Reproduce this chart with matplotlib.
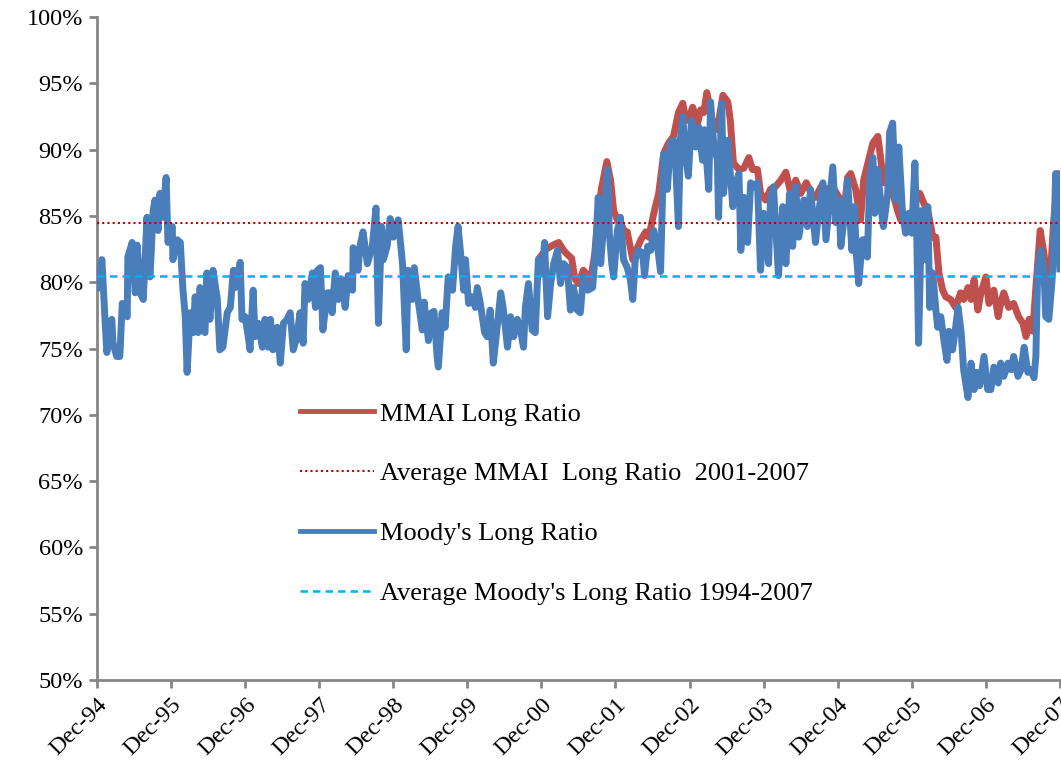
import matplotlib
matplotlib.use("Agg")
import matplotlib.pyplot as plt
import numpy as np

plt.rcParams["font.family"] = ["Liberation Serif", "DejaVu Serif"]

# months since Dec-94, value in %
moodys_month = [0.0, 0.8, 1.3, 1.6, 2.4, 2.6, 3.2, 3.7, 4.1, 4.9, 5.0, 5.7, 6.2, 6.5, 7.0, 7.5,
                8.1, 8.3, 8.6, 9.1, 9.4, 9.9, 10.2, 10.7, 11.2, 11.5, 12.2, 12.3, 13.0, 13.5, 13.9,
                14.3, 14.6, 15.1, 15.6, 15.9, 16.4, 16.7, 17.0, 17.5, 17.8, 18.3, 18.8, 19.5, 19.9,
                20.4, 21.1, 21.6, 22.1, 22.4, 23.2, 23.5, 24.0, 24.5, 24.8, 25.3, 25.6, 26.1, 26.8,
                27.2, 27.7, 28.1, 28.5, 29.2, 29.7, 30.2, 30.8, 31.3, 31.8, 32.4, 32.9, 33.4, 33.7,
                34.2, 34.9, 35.4, 35.7, 36.2, 36.6, 37.3, 37.8, 38.1, 38.6, 39.1, 39.7, 40.2, 40.7,
                41.4, 41.5, 42.3, 42.6, 43.1, 43.8, 44.6, 45.2, 45.6, 46.1, 46.4, 47.0, 47.5, 48.0,
                48.5, 48.8, 49.5, 50.1, 50.4, 51.1, 51.4, 52.1, 52.7, 53.0, 53.7, 54.2, 54.6, 55.1,
                55.3, 55.9, 56.4, 56.9, 57.6, 58.1, 58.5, 59.0, 59.4, 59.7, 60.2, 60.8, 61.3, 61.6,
                62.1, 62.8, 63.2, 63.7, 64.2, 64.9, 65.4, 65.8, 66.5, 67.0, 67.5, 68.1, 68.6, 69.1,
                69.4, 69.9, 70.5, 71.0, 71.5, 72.2, 72.5, 73.0, 73.5, 74.0, 74.6, 75.1, 75.6, 76.2,
                76.7, 77.2, 77.8, 78.3, 78.8, 79.5, 80.3, 80.8, 81.2, 81.6, 82.1, 82.7, 83.0, 83.4,
                83.7, 84.3, 84.8, 85.3, 85.9, 86.4, 86.8, 87.2, 87.7, 88.4, 88.7, 89.2, 89.7, 90.2,
                90.8, 91.3, 91.8, 92.4, 92.9, 93.4, 93.7, 94.2, 94.5, 94.9, 95.3, 95.8, 96.3, 97.0,
                97.5, 98.1, 98.4, 99.1, 99.4, 99.9, 100.5, 100.7, 101.2, 101.5, 102.2, 103.0, 103.5,
                104.0, 104.3, 104.8, 105.4, 105.9, 106.4, 107.0, 107.5, 108.0, 108.8, 109.1, 109.6,
                110.4, 111.1, 111.6, 112.2, 112.7, 113.2, 113.7, 114.5, 115.1, 115.6, 116.4, 116.9,
                117.6, 118.1, 118.5, 119.2, 119.7, 120.2, 120.5, 121.0, 121.6, 122.3, 122.7, 123.0,
                123.4, 124.0, 124.5, 124.8, 125.2, 125.7, 126.0, 126.5, 127.0, 127.4, 128.1, 128.4,
                128.9, 129.4, 129.9, 130.5, 131.0, 131.5, 132.0, 132.5, 132.8, 133.1, 133.6, 133.9,
                134.6, 134.9, 135.4, 135.9, 136.2, 136.7, 137.2, 137.7, 138.0, 138.6, 139.1, 139.5,
                140.0, 140.4, 141.1, 141.6, 142.1, 142.5, 143.0, 143.7, 144.3, 144.8, 145.3, 146.0,
                146.4, 146.9, 147.6, 148.1, 148.5, 149.2, 149.7, 150.2, 150.8, 151.3, 151.8, 152.1,
                152.4, 152.9, 153.4, 153.7, 154.2, 154.7, 155.0, 155.3, 155.8, 156.0]
moodys_ratio = [79.6, 81.7, 77.2, 74.7, 77.2, 75.4, 74.4, 74.4, 78.4, 77.4, 81.9, 83.0, 79.2, 82.8, 79.2, 78.7,
                84.9, 80.7, 80.4, 85.4, 86.2, 83.9, 86.7, 84.9, 87.9, 83.0, 84.2, 81.7, 83.2, 83.0, 79.6,
                77.4, 73.2, 77.7, 76.2, 78.9, 76.2, 79.6, 76.6, 76.2, 80.7, 77.2, 80.9, 78.7, 74.9,
                75.1, 77.7, 78.1, 80.9, 79.6, 81.5, 77.2, 77.4, 75.9, 74.9, 79.4, 75.9, 76.9, 75.1,
                77.2, 75.1, 77.2, 74.9, 76.6, 73.9, 76.9, 77.2, 77.7, 74.9, 75.9, 77.7, 75.4, 79.9,
                78.7, 80.7, 78.1, 80.9, 81.1, 76.4, 79.2, 79.2, 77.7, 80.7, 78.7, 80.2, 78.1, 80.5,
                79.4, 82.6, 80.9, 82.7, 83.8, 81.4, 82.7, 85.6, 76.9, 84.2, 81.7, 82.7, 84.8, 83.4,
                84.2, 84.7, 81.4, 74.9, 80.9, 78.7, 81.1, 78.4, 76.4, 78.5, 75.6, 77.7, 77.8, 74.4,
                73.6, 77.7, 76.6, 80.4, 79.4, 82.7, 84.2, 81.7, 79.4, 81.7, 78.4, 78.9, 78.1, 79.6,
                78.4, 76.2, 75.9, 77.9, 73.9, 76.9, 79.2, 78.1, 75.1, 77.4, 75.9, 77.2, 76.4, 75.1,
                78.1, 79.9, 76.4, 76.2, 81.7, 80.7, 83.0, 77.4, 79.9, 81.4, 82.4, 79.9, 81.4, 81.1,
                77.9, 79.6, 77.9, 77.7, 80.4, 79.4, 79.6, 82.7, 86.4, 81.4, 84.5, 88.5, 83.7, 81.4,
                80.4, 83.9, 84.9, 81.7, 81.1, 80.2, 78.7, 81.7, 82.4, 82.2, 80.5, 82.7, 82.4, 83.9,
                82.7, 80.8, 89.7, 87.0, 90.5, 90.7, 89.4, 84.2, 90.7, 92.5, 89.7, 88.0, 92.2, 90.2,
                91.7, 89.2, 91.5, 87.0, 93.6, 90.5, 89.2, 84.9, 93.5, 86.7, 90.7, 85.7, 87.5,
                88.2, 82.4, 86.4, 83.0, 87.5, 87.2, 87.5, 80.9, 85.2, 81.4, 86.2, 87.2,
                80.5, 85.7, 81.4, 86.7, 82.7, 87.2, 83.4, 86.2, 84.2, 87.0, 83.0, 85.2,
                87.5, 83.2, 85.2, 88.7, 84.5, 86.2, 82.7, 84.7, 87.7, 82.4, 85.7, 82.2,
                79.9, 83.2, 83.2, 81.9, 87.9, 89.4, 85.2, 88.5, 85.7, 84.2, 86.7, 91.3,
                92.0, 86.2, 90.2, 85.2, 83.7, 85.2, 83.7, 89.0, 83.7, 75.4, 85.4, 81.7,
                85.7, 78.1, 80.7, 77.9, 76.6, 77.4, 75.6, 74.1, 76.3, 74.9, 76.6, 78.1,
                76.2, 73.4, 71.3, 73.9, 71.9, 73.2, 72.2, 74.4, 71.9, 71.9, 73.6, 72.4,
                73.9, 72.9, 73.9, 73.4, 74.4, 72.9, 73.4, 75.1, 73.2, 73.4, 72.8, 74.4,
                80.9, 82.4, 80.9, 77.4, 77.2, 80.0, 82.4, 88.2, 87.5, 81.0]

mmai_month = [71.8, 72.8, 73.9, 74.8, 75.6, 76.2, 76.9, 77.4, 78.0, 78.8, 79.3, 79.9, 80.6, 81.1, 81.7,
              82.6, 83.2, 83.7, 84.3, 84.8, 85.5, 85.9, 86.8, 87.2, 88.1, 88.9, 89.4, 90.2, 91.0,
              91.8, 92.6, 93.4, 94.2, 94.9, 95.3, 95.8, 96.5, 97.3, 97.8, 98.3, 98.8, 99.3, 99.9,
              100.5, 101.4, 102.2, 102.6, 103.1, 104.0, 104.8, 105.6, 106.2, 107.0, 107.5, 108.3,
              109.1, 109.9, 110.8, 111.6, 112.4, 113.2, 114.0, 114.9, 115.7, 116.4, 117.3, 118.1,
              119.2, 120.2, 121.0, 121.6, 122.1, 122.9, 123.7, 124.2, 125.0, 125.7, 126.5, 127.0,
              127.4, 128.2, 129.1, 129.7, 130.2, 131.0, 131.8, 132.5, 133.3, 133.9, 134.6, 135.4,
              135.9, 136.4, 137.0, 137.5, 138.3, 139.1, 139.9, 140.4, 141.1, 141.6, 142.1, 142.7,
              143.2, 144.0, 144.5, 145.3, 146.0, 146.4, 146.9, 147.7, 148.5, 149.3, 150.0, 150.5,
              151.0, 151.6, 152.1, 152.8, 153.4, 154.0, 154.5, 155.0, 155.7, 156.0]
mmai_ratio = [81.9, 82.5, 82.8, 83.0, 82.4, 82.1, 81.8, 80.3, 79.9, 80.9, 80.6, 80.0, 82.0, 84.5, 87.0,
              89.1, 87.7, 85.4, 84.7, 84.5, 83.8, 83.8, 81.7, 82.2, 83.2, 83.8, 83.4, 85.2, 86.7,
              89.7, 90.5, 91.0, 92.8, 93.5, 92.5, 92.2, 93.2, 92.0, 93.0, 92.8, 94.3, 93.0, 91.7,
              91.5, 94.1, 93.6, 92.2, 89.0, 88.5, 88.6, 89.4, 88.5, 88.5, 86.7, 86.2,
              87.0, 87.2, 87.7, 88.3, 86.7, 87.7, 86.7, 87.5, 86.7, 86.4, 87.2, 87.0,
              87.2, 86.4, 85.2, 87.9, 88.2, 87.0, 84.7, 87.7, 89.2, 90.5, 91.0, 89.2,
              87.5, 88.5, 86.4, 85.4, 84.7, 84.5, 84.7, 86.0, 86.7, 86.0, 85.4, 83.4,
              83.4, 80.7, 79.4, 78.9, 78.7, 78.1, 79.2, 78.7, 79.6, 78.7, 80.2, 77.9,
              79.2, 80.4, 78.4, 79.4, 77.4, 78.4, 79.2, 78.1, 78.4, 77.4, 76.9, 75.9,
              77.2, 76.3, 79.6, 83.9, 82.2, 79.9, 80.9, 84.7, 88.2, 87.5]

mmai_avg = 84.5
moodys_avg = 80.5

tick_months = list(range(0, 157, 12))
tick_labels = ["Dec-94", "Dec-95", "Dec-96", "Dec-97", "Dec-98", "Dec-99", "Dec-00",
               "Dec-01", "Dec-02", "Dec-03", "Dec-04", "Dec-05", "Dec-06", "Dec-07"]

fig = plt.figure(figsize=(10.61, 7.75), dpi=100)
ax = fig.add_axes([0.0914, 0.1226, 0.9076, 0.8554])

ax.plot(mmai_month, mmai_ratio, color="#C0504D", lw=5, label="MMAI Long Ratio", zorder=2)
ax.axhline(mmai_avg, color="#C00000", lw=1.5, ls=(0, (1, 1.5)),
           label="Average MMAI  Long Ratio  2001-2007", zorder=4)
ax.plot(moodys_month, moodys_ratio, color="#4A7EBB", lw=5, label="Moody's Long Ratio", zorder=3)
ax.axhline(moodys_avg, color="#00B0F0", lw=1.8, ls=(0, (3, 2)),
           label="Average Moody's Long Ratio 1994-2007", zorder=4)

ax.set_xlim(0, 156)
ax.set_ylim(50, 100)
ax.set_yticks(np.arange(50, 101, 5))
ax.set_yticklabels([f"{v}%" for v in range(50, 101, 5)])
ax.set_xticks(tick_months)
ax.set_xticklabels(tick_labels, rotation=45, ha="right", rotation_mode="anchor")

for s in ["top", "right"]:
    ax.spines[s].set_visible(False)
for s in ["left", "bottom"]:
    ax.spines[s].set_color("#868686")
    ax.spines[s].set_linewidth(2)
ax.tick_params(axis="both", colors="#868686", width=2, length=6, labelsize=17.5,
               labelcolor="black", pad=4)

leg = ax.legend(loc="upper left", bbox_to_anchor=(0.186, 0.455), frameon=False, fontsize=19,
                handlelength=2.8, handletextpad=0.25, labelspacing=1.38)
for h in leg.get_lines()[::2]:
    h.set_linewidth(3.5)

fig.savefig("out.png", dpi=100)
